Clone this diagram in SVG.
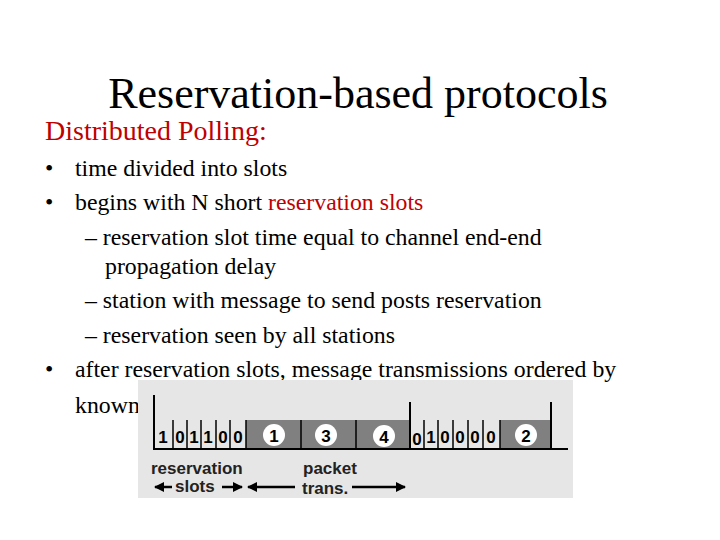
<svg xmlns="http://www.w3.org/2000/svg" width="720" height="540" viewBox="0 0 720 540">
<style>
.t{font-family:"Liberation Serif","Times New Roman",serif;fill:#000}
.b{font-size:23.8px}
.d{font-family:"Liberation Sans",Arial,sans-serif;font-weight:bold;font-size:17px;fill:#000}
.l{font-family:"Liberation Sans",Arial,sans-serif;font-weight:bold;font-size:17px;fill:#222}
.k{stroke:#000;stroke-width:2.5;fill:none}
</style>
<defs><marker id="a" viewBox="0 0 10 10" refX="9" refY="5" markerWidth="4" markerHeight="4" orient="auto-start-reverse"><path d="M0,0L10,5L0,10z" fill="#000"/></marker></defs>
<rect width="720" height="540" fill="#fff"/>
<text class="t" x="358" y="108" font-size="44" text-anchor="middle">Reservation-based protocols</text>
<text class="t" x="45" y="140" font-size="28" style="fill:#c00000">Distributed Polling:</text>
<g class="t b">
<text x="45" y="176">•</text><text x="75" y="176">time divided into slots</text>
<text x="45" y="210">•</text><text x="75" y="210">begins with N short <tspan style="fill:#c00000">reservation slots</tspan></text>
<text x="85" y="245">– reservation slot time equal to channel end-end</text>
<text x="105" y="274">propagation delay</text>
<text x="85" y="308">– station with message to send posts reservation</text>
<text x="85" y="343">– reservation seen by all stations</text>
<text x="45" y="377">•</text><text x="75" y="377">after reservation slots, message transmissions ordered by</text>
<text x="75" y="413">known</text>
</g>
<g id="figure">
<rect x="138" y="380" width="435" height="118" fill="#e6e6e6"/>
<g fill="#808080">
<rect x="246" y="420" width="164" height="29"/>
<rect x="500" y="420" width="51" height="29"/>
</g>
<g stroke="#000" stroke-width="2">
<line x1="154" y1="395" x2="154" y2="450"/>
<line x1="410" y1="402" x2="410" y2="450"/>
<line x1="551" y1="402" x2="551" y2="450"/>
<line x1="153" y1="449" x2="568" y2="449"/>
<g stroke-width="1.5">
<line x1="173" y1="420" x2="173" y2="449"/><line x1="187" y1="420" x2="187" y2="449"/><line x1="201" y1="420" x2="201" y2="449"/><line x1="216" y1="420" x2="216" y2="449"/><line x1="230" y1="420" x2="230" y2="449"/><line x1="246" y1="420" x2="246" y2="449"/>
<line x1="301" y1="420" x2="301" y2="449"/><line x1="356" y1="420" x2="356" y2="449"/>
<line x1="424" y1="420" x2="424" y2="449"/><line x1="438" y1="420" x2="438" y2="449"/><line x1="453" y1="420" x2="453" y2="449"/><line x1="468" y1="420" x2="468" y2="449"/><line x1="483" y1="420" x2="483" y2="449"/><line x1="500" y1="420" x2="500" y2="449"/>
</g>
</g>
<g class="d" text-anchor="middle">
<text x="163" y="443">1</text><text x="180" y="443">0</text><text x="194" y="443">1</text><text x="208" y="443">1</text><text x="223" y="443">0</text><text x="238" y="443">0</text>
<text x="417" y="445">0</text><text x="431" y="443">1</text><text x="445" y="443">0</text><text x="460" y="443">0</text><text x="475" y="443">0</text><text x="491" y="443">0</text>
</g>
<g fill="#fff">
<circle cx="274" cy="435" r="11"/><circle cx="326" cy="435" r="11"/><circle cx="384" cy="436" r="11"/><circle cx="526" cy="435" r="11"/>
</g>
<g class="d" text-anchor="middle" font-size="19">
<text x="274" y="442">1</text><text x="326" y="442">3</text><text x="384" y="443">4</text><text x="526" y="442">2</text>
</g>
<g class="l">
<text x="151" y="474">reservation</text>
<text x="175" y="492">slots</text>
<text x="303" y="474">packet</text>
<text x="302" y="494">trans.</text>
</g>
<g class="k" marker-end="url(#a)">
<line x1="172" y1="487" x2="155" y2="487"/>
<line x1="222" y1="487" x2="242" y2="487"/>
<line x1="295" y1="487" x2="248" y2="487"/>
<line x1="352" y1="487" x2="405" y2="487"/>
</g>
</g>
</svg>
